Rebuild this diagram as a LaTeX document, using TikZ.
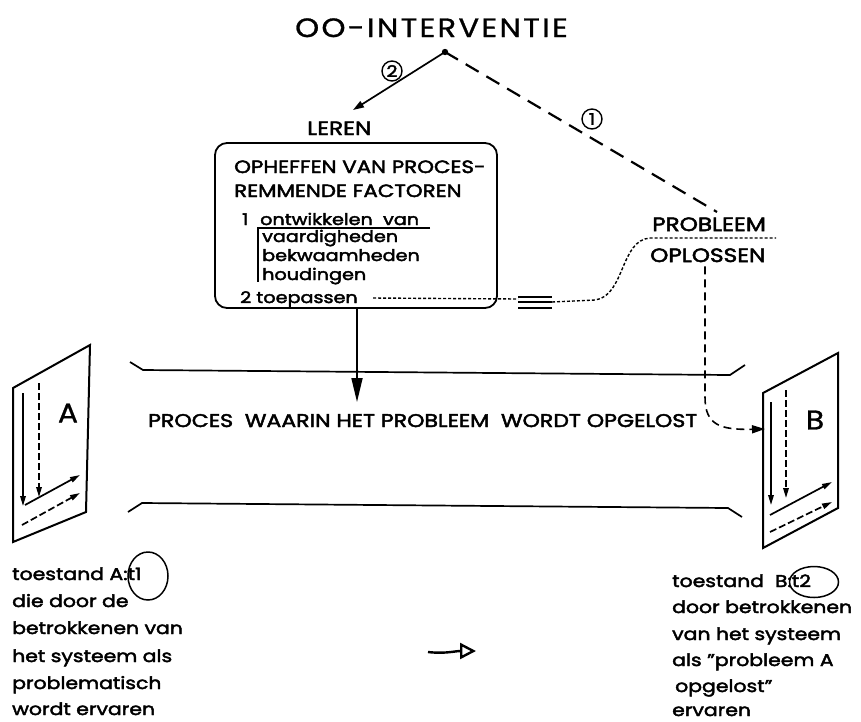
\documentclass[tikz,border=0pt]{standalone}
\usepackage{fontspec}
\setmainfont[FakeStretch=1.2, FakeBold=2.5]{Poppins}
\newfontfamily\titlefont[FakeStretch=1.15, LetterSpace=9, FakeBold=1]{Poppins}
\newfontfamily\letterfont[FakeStretch=1.1, FakeBold=1]{Poppins}
\usetikzlibrary{arrows.meta,shapes.geometric}
\tikzset{
  txt/.style={inner sep=0pt, anchor=base west, font=\fontsize{17}{20}\selectfont},
  boxtxt/.style={inner sep=0pt, anchor=base west, font=\fontsize{16}{18}\selectfont},
  captxt/.style={inner sep=0pt, anchor=base west, font=\fontsize{17.8}{20}\selectfont},
  lbltxt/.style={inner sep=0pt, anchor=base west, font=\fontsize{19.3}{20}\selectfont},
  cnum/.style={draw, circle, inner sep=0pt, minimum size=20pt, line width=1.4pt, font=\fontsize{16}{16}\selectfont},
  ln/.style={line width=1.7pt},
  dashln/.style={dash pattern=on 15pt off 9pt, line width=2.2pt},
  dashsm/.style={dash pattern=on 8pt off 5pt, line width=1.6pt},
  dotln/.style={dash pattern=on 3pt off 2pt, line width=1.4pt},
  tri/.style={-{Triangle[length=11pt,width=7pt]}},
  trism/.style={-{Triangle[length=10pt,width=5.5pt]}},
  panel/.style={line width=2pt},
}
\begin{document}
\begin{tikzpicture}[x=1pt,y=-1pt]
\useasboundingbox (0,0) rectangle (861,721);
\fill[white] (0,0) rectangle (861,721);

% title
\node[inner sep=0pt, anchor=base west, font=\titlefont\fontsize{26.5}{28}\selectfont] (title) at (295,37) {OO-INTERVENTIE};
\coordinate (top) at (445,52);
\fill (top) circle (3.2);

% leren branch
\node[lbltxt] (leren) at (307,135) {LEREN};
\coordinate (lerentip) at (353,110);
\draw[ln, tri] (top) -- (lerentip);
\node[cnum] (c2) at (392,71) {2};

% problem branch
\coordinate (probtop) at (717,212);
\draw[dashln] (top) -- (probtop);
\node[cnum, fill=white] (c1) at (592,119) {1};
\node[lbltxt] (probleem) at (652,231) {PROBLEEM};
\node[lbltxt] (oplossen) at (650,262) {OPLOSSEN};

% box
\node[draw, line width=1.8pt, rounded corners=12pt, minimum width=282pt, minimum height=165pt, inner sep=0pt] (box) at (356,225.5) {};
\node[captxt] (l1) at (234,173) {OPHEFFEN VAN PROCES-};
\node[captxt] (l2) at (234,197) {REMMENDE FACTOREN};
\node[boxtxt] (n1) at (242,225) {1};
\node[boxtxt] (l3) at (260,225) {ontwikkelen\ \ van};
\coordinate (ul1) at (258,228);
\coordinate (ul2) at (430,228);
\coordinate (ul3) at (258,282);
\draw[line width=1.4pt] (ul2) -- (ul1) -- (ul3);
\node[boxtxt] (l4) at (262,242) {vaardigheden};
\node[boxtxt] (l5) at (262,261) {bekwaamheden};
\node[boxtxt] (l6) at (262,280) {houdingen};
\node[boxtxt] (n2) at (240,303) {2 toepassen};

% dotted line from toepassen to PROBLEEM
\coordinate (d0) at (373,298);
\coordinate (d1) at (518,299);
\draw[dotln] (d0) -- (d1);
\draw[line width=1.6pt] (518,297) -- (552,297) (518,302) -- (552,302) (518,308) -- (552,308);
\coordinate (d2) at (552,302);
\coordinate (d3) at (650,238);
\coordinate (d4) at (776,238);
\draw[dotln] (d2) -- (595,300) .. controls (625,296) and (620,240) .. (d3) -- (d4);

% vertical arrow from box to process
\coordinate (ptip) at (357,402);
\draw[ln, -{Triangle[length=24pt,width=11pt]}] (box.south -| ptip) -- (ptip);

% process band
\coordinate (t0) at (130,362);
\coordinate (t1) at (143,370);
\coordinate (t2) at (730,375);
\coordinate (t3) at (745,365);
\draw[ln] (t0) -- (t1) -- (t2) -- (t3);
\coordinate (b0) at (128,512);
\coordinate (b1) at (142,503);
\coordinate (b2) at (728,508);
\coordinate (b3) at (742,517);
\draw[ln] (b0) -- (b1) -- (b2) -- (b3);
\node[inner sep=0pt, anchor=base west, font=\fontsize{18.4}{20}\selectfont] (proces) at (148,427) {PROCES\ \ WAARIN HET PROBLEEM\ \ WORDT OPGELOST};

% panel A
\coordinate (A1) at (13,388);
\coordinate (A2) at (90,345);
\coordinate (A3) at (86,512);
\coordinate (A4) at (13,542);
\draw[panel] (A1) -- (A2) -- (A3) -- (A4) -- cycle;
\node[inner sep=0pt, font=\letterfont\fontsize{27}{28}\selectfont] (Alab) at (68,413) {A};
\draw[ln, trism] (23,393) -- (23,506);
\draw[ln, dash pattern=on 7pt off 3pt, trism] (39,383) -- (39,497);
\draw[ln, trism] (25,505) -- (80,475);
\draw[ln, dash pattern=on 7pt off 3pt, trism] (22,525) -- (80,493);

% panel B
\coordinate (B1) at (763,393);
\coordinate (B2) at (838,353);
\coordinate (B3) at (838,508);
\coordinate (B4) at (763,548);
\draw[panel] (B1) -- (B2) -- (B3) -- (B4) -- cycle;
\node[inner sep=0pt, font=\letterfont\fontsize{27}{28}\selectfont] (Blab) at (815,420) {B};
\draw[ln, trism] (771,402) -- (771,505);
\draw[ln, dash pattern=on 7pt off 3pt, trism] (786,390) -- (786,498);
\draw[ln, trism] (770,515) -- (832,482);
\draw[ln, dash pattern=on 7pt off 3pt, trism] (770,532) -- (832,502);

% dashed path from OPLOSSEN to B
\coordinate (btip) at (765,429);
\draw[dashsm, -{Triangle[length=13pt,width=8pt]}] (oplossen.south -| 705,0) ++(0,4) -- (705,397) .. controls (705,425) and (720,430) .. (btip);

% bottom texts
\node[txt] (a1) at (12,580) {toestand A:t1};
\node[txt] (a2) at (12,607) {die door de};
\node[txt] (a3) at (12,634) {betrokkenen van};
\node[txt] (a4) at (12,662) {het systeem als};
\node[txt] (a5) at (12,689) {problematisch};
\node[txt] (a6) at (12,715) {wordt\ ervaren};
\node[draw, ellipse, line width=1.5pt, minimum width=40pt, minimum height=48pt, inner sep=0pt] (e1) at (148,576) {};

\node[txt] (b1t) at (672,587) {toestand\ \ B:t2};
\node[txt] (b2t) at (672,613) {door betrokkenen};
\node[txt] (b3t) at (672,640) {van het systeem};
\node[txt] (b4t) at (672,666) {als "probleem A};
\node[txt] (b5t) at (675,692) {opgelost"};
\node[txt] (b6t) at (672,716) {ervaren};
\node[draw, ellipse, line width=1.5pt, minimum width=49pt, minimum height=31pt, inner sep=0pt] (e2) at (814,582) {};

% middle arrow
\coordinate (m0) at (428,652);
\coordinate (m1) at (476,651);
\draw[line width=2.4pt, -{Triangle[open, length=16pt, width=16pt, line width=2.4pt]}] (m0) .. controls (445,654) and (455,651) .. (m1);
\end{tikzpicture}
\end{document}
